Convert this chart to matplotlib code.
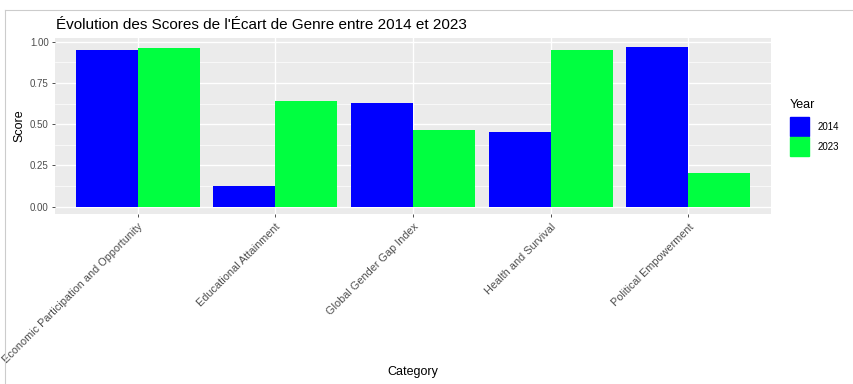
import numpy as np
import matplotlib.pyplot as plt
from matplotlib.patches import Rectangle

plt.rcParams['font.family'] = ['Liberation Sans', 'DejaVu Sans']

categories = ["Economic Participation and Opportunity", "Educational Attainment",
              "Global Gender Gap Index", "Health and Survival", "Political Empowerment"]
years = ["2014", "2023"]
score_2014 = [0.95, 0.127, 0.627, 0.453, 0.97]
score_2023 = [0.964, 0.64, 0.465, 0.95, 0.202]
colors = ["#0000FF", "#00FF40"]

fig = plt.figure(figsize=(8.54, 3.84), dpi=100)
ax = fig.add_axes([55 / 854, 1 - 214 / 384, (771 - 55) / 854, (214 - 38) / 384])
ax.set_facecolor("#EBEBEB")

x = np.arange(1, len(categories) + 1)
w = 0.45
ax.bar(x - w / 2, score_2014, width=w, color=colors[0], label=years[0], zorder=3)
ax.bar(x + w / 2, score_2023, width=w, color=colors[1], label=years[1], zorder=3)

ax.set_xlim(0.4, 5.6)
ax.set_ylim(-0.044, 1.022)
ax.set_yticks([0, 0.25, 0.5, 0.75, 1.0])
ax.set_yticklabels(["0.00", "0.25", "0.50", "0.75", "1.00"])
ax.set_yticks([0.125, 0.375, 0.625, 0.875], minor=True)
ax.set_xticks(x)
ax.set_xticklabels(categories, rotation=45, ha="right", va="top", rotation_mode="anchor")
ax.grid(True, which="major", color="white", linewidth=1.0, zorder=0)
ax.grid(True, which="minor", axis="y", color="white", linewidth=0.5, zorder=0)
ax.tick_params(axis="both", which="major", colors="#333333", labelcolor="#4D4D4D",
               labelsize=7, length=2.5, width=0.6, pad=2)
ax.tick_params(axis="x", labelsize=7.8, pad=3)
ax.tick_params(axis="both", which="minor", length=0)
for s in ax.spines.values():
    s.set_visible(False)

ax.set_ylabel("Score", fontsize=9, color="black", labelpad=3)
fig.text(413 / 854, 1 - 372 / 384, "Category", fontsize=9, ha="center", va="center")
fig.text(56 / 854, 1 - 25 / 384, "Évolution des Scores de l'Écart de Genre entre 2014 et 2023",
         fontsize=11, ha="left", va="center")

# legend
fig.text(790 / 854, 1 - 105 / 384, "Year", fontsize=9, ha="left", va="center")
for i, (yr, c) in enumerate(zip(years, colors)):
    y0 = 117 + i * 20
    fig.patches.append(Rectangle((790 / 854, 1 - (y0 + 19) / 384), 19 / 854, 19 / 384,
                                 transform=fig.transFigure, color=c))
    fig.text(818 / 854, 1 - (y0 + 9.5) / 384, yr, fontsize=7, ha="left", va="center")

# screenshot frame
fig.add_artist(plt.Line2D([5 / 854, 1], [1 - 10 / 384] * 2, transform=fig.transFigure,
                          color="#CCCCCC", linewidth=0.8))
fig.add_artist(plt.Line2D([5 / 854] * 2, [0, 1 - 10 / 384], transform=fig.transFigure,
                          color="#CCCCCC", linewidth=0.8))

fig.savefig("out.png", dpi=100)
